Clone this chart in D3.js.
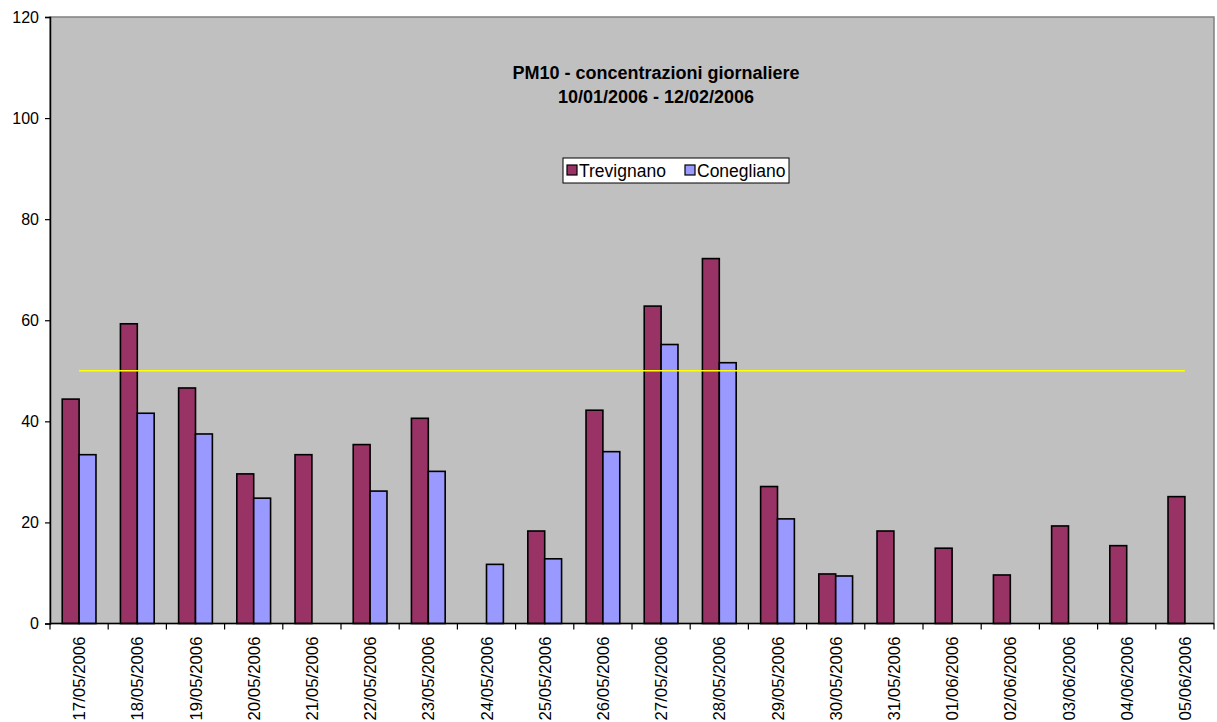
<!DOCTYPE html>
<html>
<head>
<meta charset="utf-8">
<script src="https://cdn.jsdelivr.net/npm/d3@7/dist/d3.min.js"></script>
<style>
  html, body { margin: 0; padding: 0; background: #ffffff; }
  svg { display: block; font-family: Arial, "Liberation Sans", sans-serif; }
</style>
</head>
<body>
<svg id="chart" width="1217" height="722"></svg>
<script>
// Daily PM10 concentrations (µg/m³) at two monitoring stations
const dates = [
  "17/05/2006", "18/05/2006", "19/05/2006", "20/05/2006", "21/05/2006",
  "22/05/2006", "23/05/2006", "24/05/2006", "25/05/2006", "26/05/2006",
  "27/05/2006", "28/05/2006", "29/05/2006", "30/05/2006", "31/05/2006",
  "01/06/2006", "02/06/2006", "03/06/2006", "04/06/2006", "05/06/2006"
];
const trevignano = [44.4, 59.3, 46.6, 29.6, 33.4, 35.4, 40.6, null, 18.3, 42.2,
                    62.8, 72.2, 27.1, 9.8, 18.3, 14.9, 9.6, 19.3, 15.4, 25.1];
const conegliano = [33.4, 41.6, 37.5, 24.8, null, 26.2, 30.1, 11.7, 12.8, 34.0,
                    55.2, 51.6, 20.7, 9.4, null, null, null, null, null, null];
const limitValue = 50;            // daily limit value line
const yTicks = [0, 20, 40, 60, 80, 100, 120];
const seriesNames = ["Trevignano", "Conegliano"];
const seriesColors = ["#993366", "#9999FF"];
const titleLines = ["PM10 - concentrazioni giornaliere", "10/01/2006 - 12/02/2006"];

const svg = d3.select("#chart");
const plot = { left: 50, top: 17, right: 1214, bottom: 623.5 };

const x = d3.scaleBand()
  .domain(dates)
  .range([plot.left, plot.right])
  .paddingInner(0.42)
  .paddingOuter(0.21);

const xSeries = d3.scaleBand()
  .domain(seriesNames)
  .range([0, x.bandwidth()]);

const y = d3.scaleLinear()
  .domain([0, 120])
  .range([plot.bottom, plot.top]);

// plot background
svg.append("rect")
  .attr("x", plot.left).attr("y", plot.top)
  .attr("width", plot.right - plot.left).attr("height", plot.bottom - plot.top)
  .attr("fill", "#C0C0C0")
  .attr("stroke", "#808080").attr("stroke-width", 1.5);

// bars
const series = [trevignano, conegliano];
series.forEach((vals, si) => {
  svg.append("g")
    .selectAll("rect")
    .data(dates.map((d, i) => ({ date: d, v: vals[i] })).filter(d => d.v != null))
    .join("rect")
      .attr("x", d => x(d.date) + xSeries(seriesNames[si]))
      .attr("y", d => y(d.v))
      .attr("width", xSeries.bandwidth())
      .attr("height", d => y(0) - y(d.v))
      .attr("fill", seriesColors[si])
      .attr("stroke", "#000")
      .attr("stroke-width", 1.6);
});

// limit value line across category centres
const line = d3.line()
  .x(d => x(d) + x.bandwidth() / 2)
  .y(() => y(limitValue));
svg.append("path")
  .datum(dates)
  .attr("d", line)
  .attr("fill", "none")
  .attr("stroke", "#FFFF00")
  .attr("stroke-width", 1.5);

// y axis
const yAxis = d3.axisLeft(y)
  .tickValues(yTicks)
  .tickSize(5)
  .tickPadding(6);
const gy = svg.append("g")
  .attr("transform", `translate(${plot.left},0)`)
  .call(yAxis);
gy.select(".domain").attr("stroke", "#000").attr("stroke-width", 1.5);
gy.selectAll(".tick line").attr("stroke", "#000").attr("stroke-width", 1.2);
gy.selectAll(".tick text")
  .attr("font-size", 16)
  .attr("font-family", "Arial, 'Liberation Sans', sans-serif")
  .attr("fill", "#000");

// x axis: ticks at category boundaries, labels rotated
const gx = svg.append("g")
  .attr("transform", `translate(0,${plot.bottom})`);
gx.append("line")
  .attr("x1", plot.left).attr("x2", plot.right)
  .attr("y1", 0).attr("y2", 0)
  .attr("stroke", "#000").attr("stroke-width", 1.5);
const boundaries = d3.range(dates.length + 1).map(i => plot.left + i * (plot.right - plot.left) / dates.length);
gx.selectAll(".bt")
  .data(boundaries)
  .join("line")
    .attr("x1", d => d).attr("x2", d => d)
    .attr("y1", 0).attr("y2", 6)
    .attr("stroke", "#000").attr("stroke-width", 1.2);
gx.selectAll(".lbl")
  .data(dates)
  .join("text")
    .attr("transform", d => `translate(${x(d) + x.bandwidth() / 2 + 6},13) rotate(-90)`)
    .attr("text-anchor", "end")
    .attr("font-size", 16.8)
    .attr("fill", "#000")
    .text(d => d);

// title
const titleX = 656;
svg.append("text")
  .attr("x", titleX).attr("y", 79)
  .attr("text-anchor", "middle")
  .attr("font-size", 18).attr("font-weight", "bold")
  .text(titleLines[0]);
svg.append("text")
  .attr("x", titleX).attr("y", 103)
  .attr("text-anchor", "middle")
  .attr("font-size", 18).attr("font-weight", "bold")
  .text(titleLines[1]);

// legend
const legend = svg.append("g").attr("transform", "translate(563,158)");
legend.append("rect")
  .attr("x", 0).attr("y", 0).attr("width", 226).attr("height", 25)
  .attr("fill", "#fff").attr("stroke", "#000").attr("stroke-width", 1);
const items = [{ name: seriesNames[0], color: seriesColors[0], x: 4 }, { name: seriesNames[1], color: seriesColors[1], x: 122 }];
items.forEach(it => {
  legend.append("rect")
    .attr("x", it.x).attr("y", 7).attr("width", 10).attr("height", 10)
    .attr("fill", it.color).attr("stroke", "#000").attr("stroke-width", 1.2);
  legend.append("text")
    .attr("x", it.x + 12).attr("y", 18.5)
    .attr("font-size", 17.5)
    .text(it.name);
});
</script>
</body>
</html>
